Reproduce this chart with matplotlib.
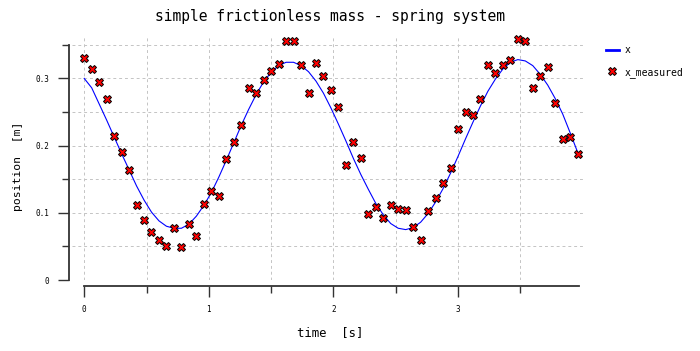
import matplotlib
matplotlib.use("Agg")
import matplotlib.pyplot as plt
from matplotlib.lines import Line2D

# time samples (s)
t = [0.00, 0.06, 0.12, 0.18, 0.24, 0.30, 0.36, 0.42, 0.48, 0.54, 0.60, 0.66,
     0.72, 0.78, 0.84, 0.90, 0.96, 1.02, 1.08, 1.14, 1.20, 1.26, 1.32, 1.38,
     1.44, 1.50, 1.56, 1.62, 1.68, 1.74, 1.80, 1.86, 1.92, 1.98, 2.04, 2.10,
     2.16, 2.22, 2.28, 2.34, 2.40, 2.46, 2.52, 2.58, 2.64, 2.70, 2.76, 2.82,
     2.88, 2.94, 3.00, 3.06, 3.12, 3.18, 3.24, 3.30, 3.36, 3.42, 3.48, 3.54,
     3.60, 3.66, 3.72, 3.78, 3.84, 3.90, 3.96]

# simulated position x (m)
x = [0.300, 0.286, 0.262, 0.238, 0.213, 0.188, 0.164, 0.140, 0.119, 0.101, 0.088, 0.080,
     0.077, 0.077, 0.083, 0.095, 0.111, 0.130, 0.153, 0.178, 0.204, 0.230, 0.254, 0.276,
     0.295, 0.309, 0.319, 0.324, 0.324, 0.319, 0.310, 0.296, 0.278, 0.256, 0.232, 0.207,
     0.181, 0.157, 0.135, 0.114, 0.097, 0.084, 0.077, 0.075, 0.078, 0.086, 0.099, 0.116,
     0.136, 0.159, 0.184, 0.210, 0.235, 0.259, 0.281, 0.299, 0.314, 0.324, 0.328, 0.326,
     0.319, 0.306, 0.290, 0.270, 0.247, 0.219, 0.190]

# noisy measurements (m)
x_measured = [0.330, 0.314, 0.294, 0.270, 0.215, 0.190, 0.164, 0.111, 0.089, 0.072, 0.059, 0.050,
              0.077, 0.049, 0.084, 0.066, 0.113, 0.132, 0.125, 0.180, 0.206, 0.231, 0.286, 0.278,
              0.297, 0.311, 0.321, 0.355, 0.355, 0.320, 0.279, 0.323, 0.304, 0.283, 0.258, 0.171,
              0.206, 0.182, 0.098, 0.109, 0.093, 0.111, 0.106, 0.104, 0.079, 0.060, 0.103, 0.122,
              0.144, 0.167, 0.225, 0.250, 0.245, 0.269, 0.320, 0.308, 0.320, 0.328, 0.359, 0.355,
              0.286, 0.304, 0.317, 0.264, 0.210, 0.213, 0.187]

mono = "DejaVu Sans Mono"
W, H = 700, 351
fig = plt.figure(figsize=(7, 3.51), dpi=100)
# axes box in pixels: left 72, right 585, top 35, bottom 280
ax = fig.add_axes([72 / W, 1 - 280 / H, (585 - 72) / W, (280 - 35) / H])

ax.plot(t, x, color="#0000ff", lw=0.8, zorder=3)
ax.plot(t, x_measured, ls="none", marker="X", ms=5.3, mfc="#ff0000", mec="black",
        mew=0.7, zorder=4)

ax.set_xlim(-0.098, 4.019)
ax.set_ylim(0, 0.3646)

ax.set_xticks([0, 1, 2, 3])
ax.set_xticklabels(["0", "1", "2", "3"])
ax.set_xticks([0.5, 1.5, 2.5, 3.5], minor=True)
ax.set_yticks([0, 0.1, 0.2, 0.3])
ax.set_yticklabels(["0", "0.1", "0.2", "0.3"])
ax.set_yticks([0.05, 0.15, 0.25, 0.35], minor=True)

ax.grid(True, which="both", color="#c4c4c4", ls=(0, (3, 3)), lw=0.7, zorder=0)

for s in ["top", "right"]:
    ax.spines[s].set_visible(False)
ax.spines["left"].set_position(("outward", 2.2))
ax.spines["bottom"].set_position(("outward", 4.3))
ax.spines["left"].set_bounds(0, 0.35)
ax.spines["bottom"].set_bounds(0, 3.97)
for s in ["left", "bottom"]:
    ax.spines[s].set_color("#333333")
    ax.spines[s].set_linewidth(1.3)

ax.tick_params(which="major", length=8, width=1, color="#333333", labelsize=5.5,
               labelfontfamily=mono)
ax.tick_params(which="minor", length=5, width=1, color="#333333")
ax.tick_params(axis="y", which="major", pad=6)
ax.tick_params(axis="x", which="major", pad=6)

fig.text(330 / W, 1 - 16 / H, "simple frictionless mass - spring system",
         family=mono, fontsize=10.5, ha="center", va="center")
fig.text(330 / W, 1 - 333 / H, "time  [s]", family=mono, fontsize=8.8,
         ha="center", va="center")
fig.text(18 / W, 1 - 166 / H, "position  [m]", family=mono, fontsize=8.2,
         rotation=90, ha="center", va="center")

handles = [Line2D([], [], color="#0000ff", lw=2),
           Line2D([], [], ls="none", marker="X", ms=6, mfc="#ff0000", mec="black", mew=0.7)]
fig.legend(handles, ["x", "x_measured"], loc="upper left",
           bbox_to_anchor=(606 / W, 1 - 45 / H), bbox_transform=fig.transFigure,
           frameon=False, prop={"family": mono, "size": 7}, handlelength=1.3,
           handletextpad=0.6, labelspacing=1.2, borderpad=0, borderaxespad=0)

fig.savefig("out.png", dpi=100)
